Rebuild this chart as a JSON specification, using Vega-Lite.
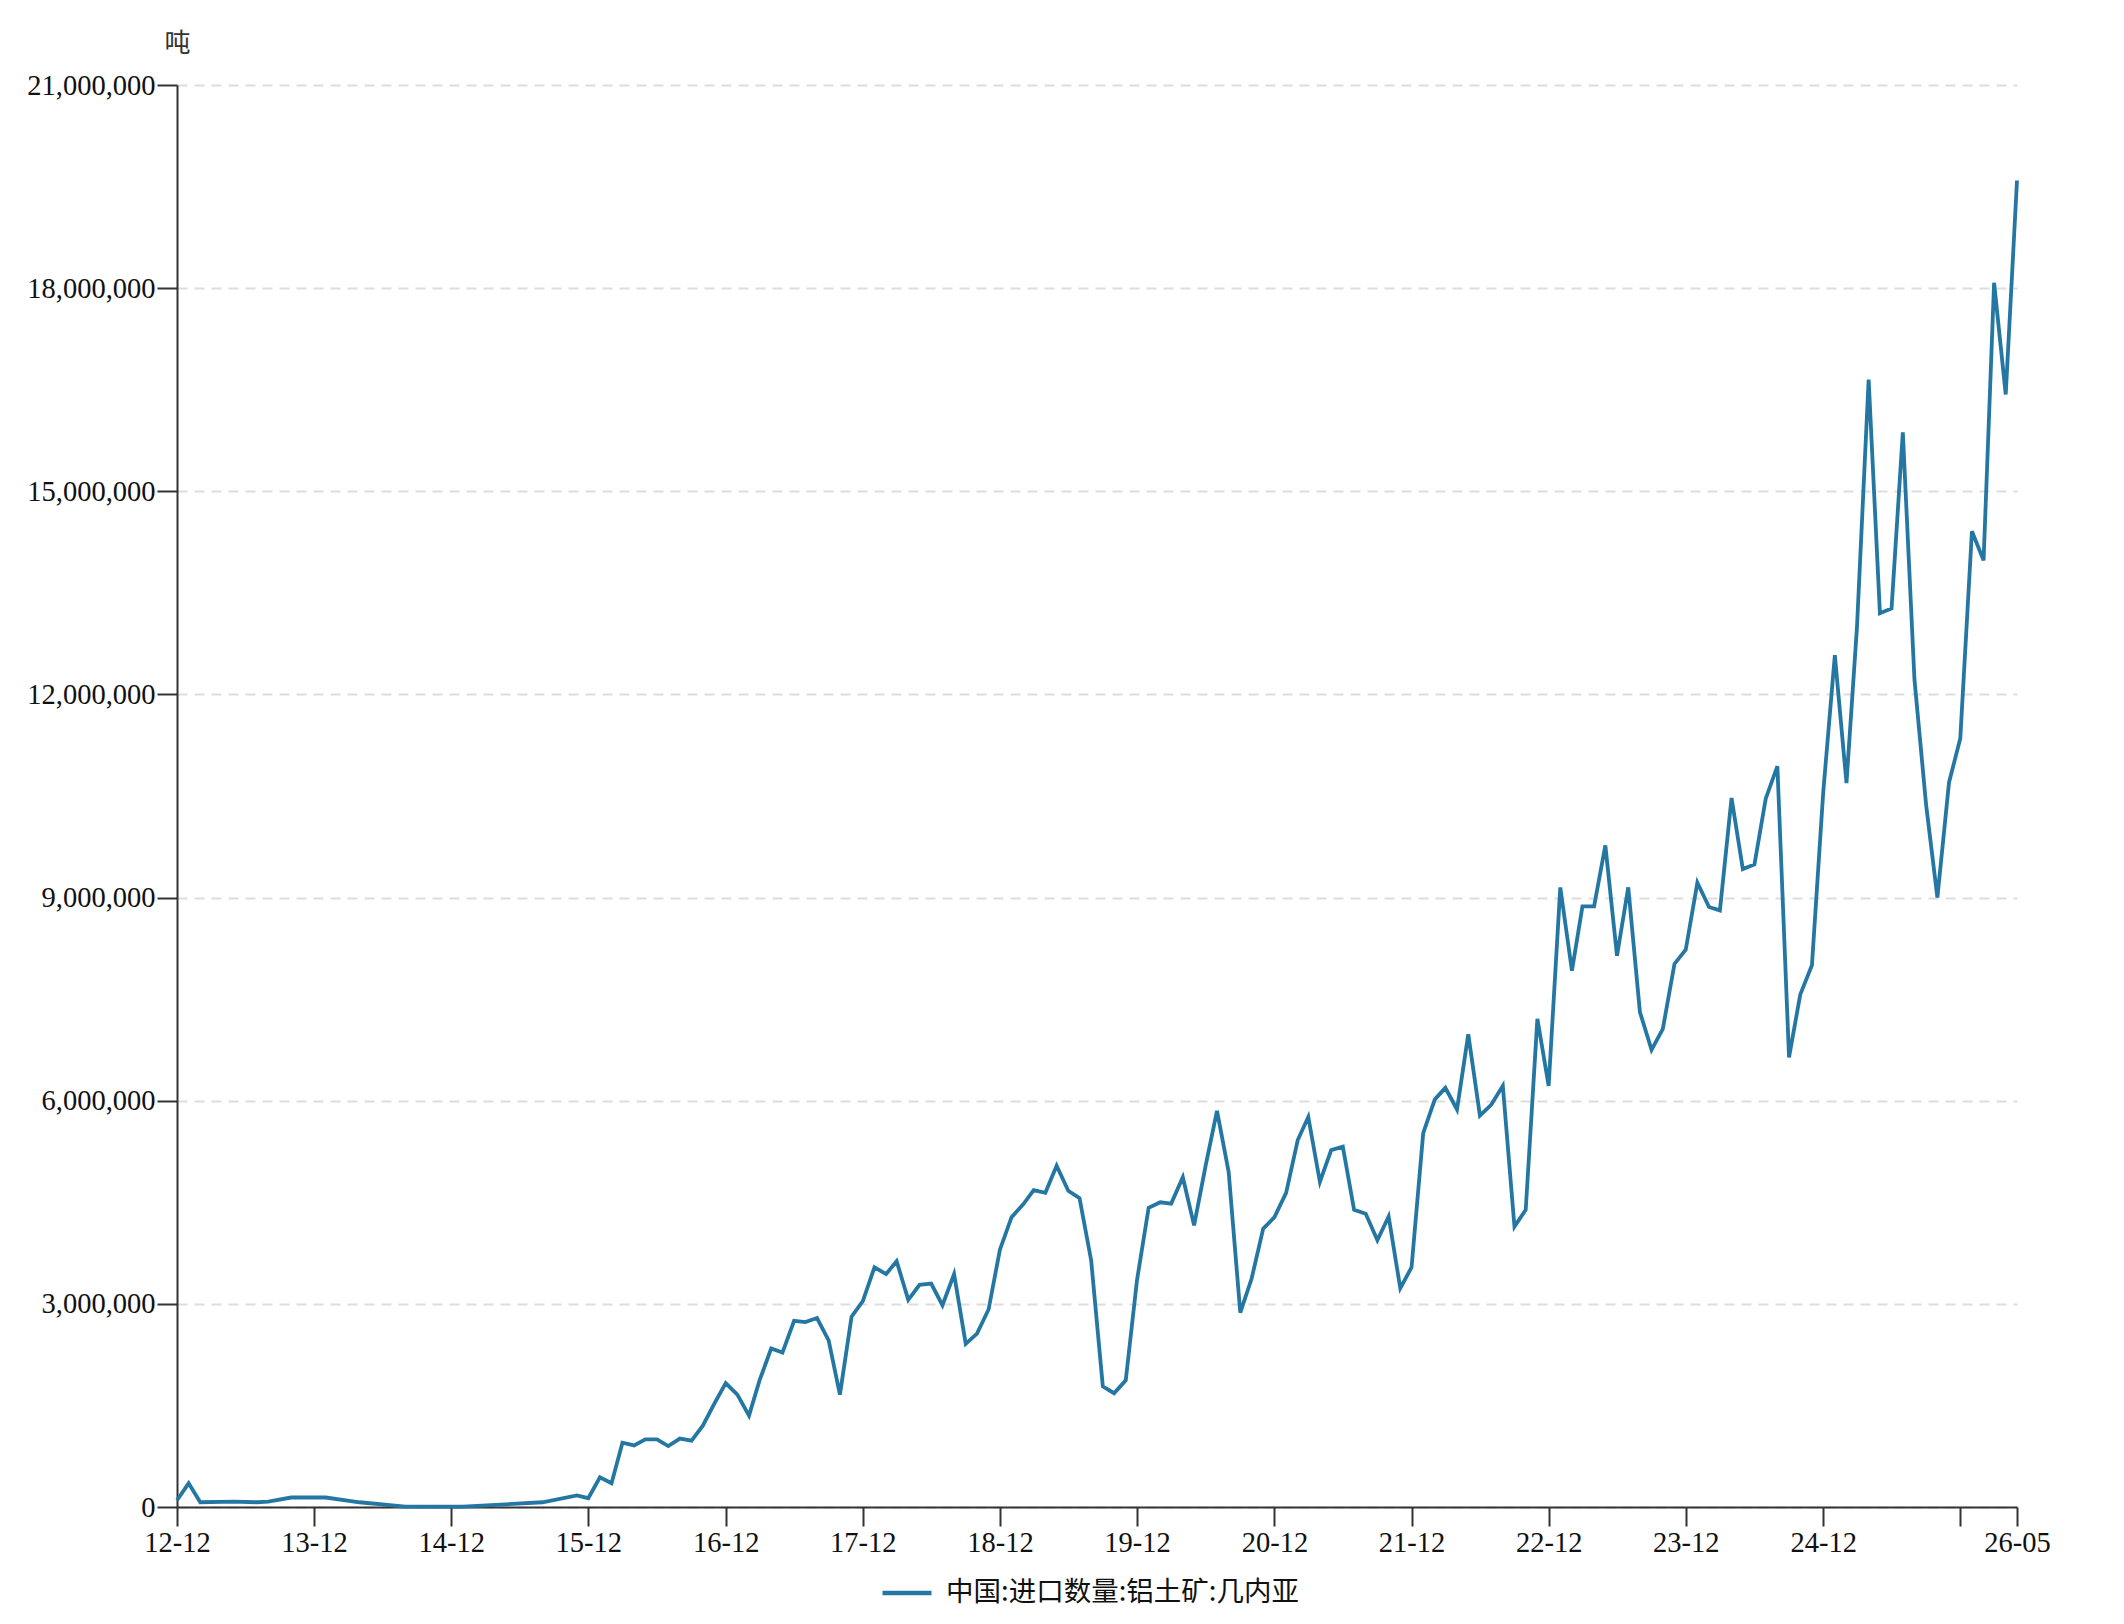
{
  "$schema": "https://vega.github.io/schema/vega-lite/v6.json",
  "autosize": {"type": "none"},
  "padding": {"left": 177, "top": 85, "right": 107, "bottom": 117},
  "width": 1840,
  "height": 1422,
  "background": "#ffffff",
  "config": {
    "view": {"stroke": null},
    "font": "Liberation Serif"
  },
  "data": {
    "values": [
      {"date": "2012-12-01", "value": 100000},
      {"date": "2013-01-01", "value": 350000},
      {"date": "2013-02-01", "value": 70000},
      {"date": "2013-05-01", "value": 80000},
      {"date": "2013-07-01", "value": 70000},
      {"date": "2013-08-01", "value": 80000},
      {"date": "2013-10-01", "value": 140000},
      {"date": "2014-01-01", "value": 140000},
      {"date": "2014-04-01", "value": 70000},
      {"date": "2014-08-01", "value": 5000},
      {"date": "2015-01-01", "value": 5000},
      {"date": "2015-08-01", "value": 70000},
      {"date": "2015-11-01", "value": 170000},
      {"date": "2015-12-01", "value": 130000},
      {"date": "2016-01-01", "value": 440000},
      {"date": "2016-02-01", "value": 350000},
      {"date": "2016-03-01", "value": 950000},
      {"date": "2016-04-01", "value": 910000},
      {"date": "2016-05-01", "value": 1000000},
      {"date": "2016-06-01", "value": 1000000},
      {"date": "2016-07-01", "value": 900000},
      {"date": "2016-08-01", "value": 1010000},
      {"date": "2016-09-01", "value": 980000},
      {"date": "2016-10-01", "value": 1200000},
      {"date": "2016-11-01", "value": 1530000},
      {"date": "2016-12-01", "value": 1830000},
      {"date": "2017-01-01", "value": 1660000},
      {"date": "2017-02-01", "value": 1350000},
      {"date": "2017-03-01", "value": 1870000},
      {"date": "2017-04-01", "value": 2340000},
      {"date": "2017-05-01", "value": 2280000},
      {"date": "2017-06-01", "value": 2750000},
      {"date": "2017-07-01", "value": 2730000},
      {"date": "2017-08-01", "value": 2790000},
      {"date": "2017-09-01", "value": 2460000},
      {"date": "2017-10-01", "value": 1660000},
      {"date": "2017-11-01", "value": 2810000},
      {"date": "2017-12-01", "value": 3040000},
      {"date": "2018-01-01", "value": 3540000},
      {"date": "2018-02-01", "value": 3440000},
      {"date": "2018-03-01", "value": 3630000},
      {"date": "2018-04-01", "value": 3060000},
      {"date": "2018-05-01", "value": 3280000},
      {"date": "2018-06-01", "value": 3300000},
      {"date": "2018-07-01", "value": 2980000},
      {"date": "2018-08-01", "value": 3440000},
      {"date": "2018-09-01", "value": 2410000},
      {"date": "2018-10-01", "value": 2560000},
      {"date": "2018-11-01", "value": 2920000},
      {"date": "2018-12-01", "value": 3800000},
      {"date": "2019-01-01", "value": 4280000},
      {"date": "2019-02-01", "value": 4470000},
      {"date": "2019-03-01", "value": 4680000},
      {"date": "2019-04-01", "value": 4640000},
      {"date": "2019-05-01", "value": 5040000},
      {"date": "2019-06-01", "value": 4670000},
      {"date": "2019-07-01", "value": 4560000},
      {"date": "2019-08-01", "value": 3640000},
      {"date": "2019-09-01", "value": 1780000},
      {"date": "2019-10-01", "value": 1680000},
      {"date": "2019-11-01", "value": 1870000},
      {"date": "2019-12-01", "value": 3350000},
      {"date": "2020-01-01", "value": 4420000},
      {"date": "2020-02-01", "value": 4500000},
      {"date": "2020-03-01", "value": 4480000},
      {"date": "2020-04-01", "value": 4870000},
      {"date": "2020-05-01", "value": 4160000},
      {"date": "2020-06-01", "value": 5050000},
      {"date": "2020-07-01", "value": 5850000},
      {"date": "2020-08-01", "value": 4950000},
      {"date": "2020-09-01", "value": 2870000},
      {"date": "2020-10-01", "value": 3370000},
      {"date": "2020-11-01", "value": 4110000},
      {"date": "2020-12-01", "value": 4280000},
      {"date": "2021-01-01", "value": 4640000},
      {"date": "2021-02-01", "value": 5420000},
      {"date": "2021-03-01", "value": 5760000},
      {"date": "2021-04-01", "value": 4800000},
      {"date": "2021-05-01", "value": 5270000},
      {"date": "2021-06-01", "value": 5320000},
      {"date": "2021-07-01", "value": 4390000},
      {"date": "2021-08-01", "value": 4330000},
      {"date": "2021-09-01", "value": 3940000},
      {"date": "2021-10-01", "value": 4290000},
      {"date": "2021-11-01", "value": 3230000},
      {"date": "2021-12-01", "value": 3540000},
      {"date": "2022-01-01", "value": 5520000},
      {"date": "2022-02-01", "value": 6020000},
      {"date": "2022-03-01", "value": 6190000},
      {"date": "2022-04-01", "value": 5870000},
      {"date": "2022-05-01", "value": 6980000},
      {"date": "2022-06-01", "value": 5780000},
      {"date": "2022-07-01", "value": 5940000},
      {"date": "2022-08-01", "value": 6220000},
      {"date": "2022-09-01", "value": 4140000},
      {"date": "2022-10-01", "value": 4390000},
      {"date": "2022-11-01", "value": 7210000},
      {"date": "2022-12-01", "value": 6220000},
      {"date": "2023-01-01", "value": 9150000},
      {"date": "2023-02-01", "value": 7920000},
      {"date": "2023-03-01", "value": 8870000},
      {"date": "2023-04-01", "value": 8870000},
      {"date": "2023-05-01", "value": 9770000},
      {"date": "2023-06-01", "value": 8140000},
      {"date": "2023-07-01", "value": 9150000},
      {"date": "2023-08-01", "value": 7310000},
      {"date": "2023-09-01", "value": 6750000},
      {"date": "2023-10-01", "value": 7060000},
      {"date": "2023-11-01", "value": 8020000},
      {"date": "2023-12-01", "value": 8230000},
      {"date": "2024-01-01", "value": 9220000},
      {"date": "2024-02-01", "value": 8860000},
      {"date": "2024-03-01", "value": 8810000},
      {"date": "2024-04-01", "value": 10470000},
      {"date": "2024-05-01", "value": 9420000},
      {"date": "2024-06-01", "value": 9490000},
      {"date": "2024-07-01", "value": 10460000},
      {"date": "2024-08-01", "value": 10940000},
      {"date": "2024-09-01", "value": 6640000},
      {"date": "2024-10-01", "value": 7570000},
      {"date": "2024-11-01", "value": 8000000},
      {"date": "2024-12-01", "value": 10550000},
      {"date": "2025-01-01", "value": 12580000},
      {"date": "2025-02-01", "value": 10690000},
      {"date": "2025-03-01", "value": 13000000},
      {"date": "2025-04-01", "value": 16650000},
      {"date": "2025-05-01", "value": 13200000},
      {"date": "2025-06-01", "value": 13270000},
      {"date": "2025-07-01", "value": 15870000},
      {"date": "2025-08-01", "value": 12220000},
      {"date": "2025-09-01", "value": 10370000},
      {"date": "2025-10-01", "value": 9000000},
      {"date": "2025-11-01", "value": 10700000},
      {"date": "2025-12-01", "value": 11350000},
      {"date": "2026-01-01", "value": 14410000},
      {"date": "2026-02-01", "value": 13980000},
      {"date": "2026-03-01", "value": 18080000},
      {"date": "2026-04-01", "value": 16430000},
      {"date": "2026-05-01", "value": 19590000}
    ]
  },
  "mark": {"type": "line", "strokeWidth": 3.8, "interpolate": "linear"},
  "encoding": {
    "x": {
      "field": "date",
      "type": "temporal",
      "scale": {
        "type": "utc",
        "domain": [
          {"year": 2012, "month": 12, "date": 1, "utc": true},
          {"year": 2026, "month": 5, "date": 1, "utc": true}
        ]
      },
      "axis": {
        "title": null,
        "format": "%y-%m",
        "values": [
          {"year": 2012, "month": 12, "date": 1, "utc": true},
          {"year": 2013, "month": 12, "date": 1, "utc": true},
          {"year": 2014, "month": 12, "date": 1, "utc": true},
          {"year": 2015, "month": 12, "date": 1, "utc": true},
          {"year": 2016, "month": 12, "date": 1, "utc": true},
          {"year": 2017, "month": 12, "date": 1, "utc": true},
          {"year": 2018, "month": 12, "date": 1, "utc": true},
          {"year": 2019, "month": 12, "date": 1, "utc": true},
          {"year": 2020, "month": 12, "date": 1, "utc": true},
          {"year": 2021, "month": 12, "date": 1, "utc": true},
          {"year": 2022, "month": 12, "date": 1, "utc": true},
          {"year": 2023, "month": 12, "date": 1, "utc": true},
          {"year": 2024, "month": 12, "date": 1, "utc": true},
          {"year": 2025, "month": 12, "date": 1, "utc": true},
          {"year": 2026, "month": 5, "date": 1, "utc": true}
        ],
        "labelExpr": "datum.label == '25-12' ? '' : datum.label",
        "labelFont": "Liberation Serif",
        "labelFontSize": 28.5,
        "labelColor": "#111111",
        "labelPadding": 2,
        "labelOverlap": false,
        "labelFlush": false,
        "tickSize": 19,
        "tickWidth": 2,
        "tickColor": "#333333",
        "domainColor": "#333333",
        "domainWidth": 2,
        "grid": false
      }
    },
    "y": {
      "field": "value",
      "type": "quantitative",
      "scale": {"domain": [0, 21000000], "nice": false, "zero": true},
      "axis": {
        "title": "吨",
        "titleAngle": 0,
        "titleX": 0,
        "titleY": -42,
        "titleAlign": "center",
        "titleBaseline": "middle",
        "titleFont": "Noto Sans CJK SC",
        "titleFontSize": 26,
        "titleFontWeight": "normal",
        "titleColor": "#333333",
        "values": [0, 3000000, 6000000, 9000000, 12000000, 15000000, 18000000, 21000000],
        "format": ",d",
        "labelFont": "Liberation Serif",
        "labelFontSize": 28.5,
        "labelColor": "#111111",
        "labelPadding": 2,
        "tickSize": 20,
        "tickWidth": 2,
        "tickColor": "#333333",
        "domainColor": "#333333",
        "domainWidth": 2,
        "grid": true,
        "gridColor": "#dddddd",
        "gridWidth": 1.8,
        "gridDash": [10, 7]
      }
    },
    "color": {
      "datum": "中国:进口数量:铝土矿:几内亚",
      "type": "nominal",
      "scale": {"range": ["#2477a3"]},
      "legend": {
        "title": null,
        "orient": "none",
        "legendX": 703,
        "legendY": 1481,
        "symbolType": "stroke",
        "symbolSize": 2400,
        "symbolStrokeWidth": 4.5,
        "labelFont": "Noto Sans CJK SC",
        "labelFontSize": 27.5,
        "labelColor": "#111111",
        "labelOffset": 12,
        "labelLimit": 800
      }
    }
  }
}
